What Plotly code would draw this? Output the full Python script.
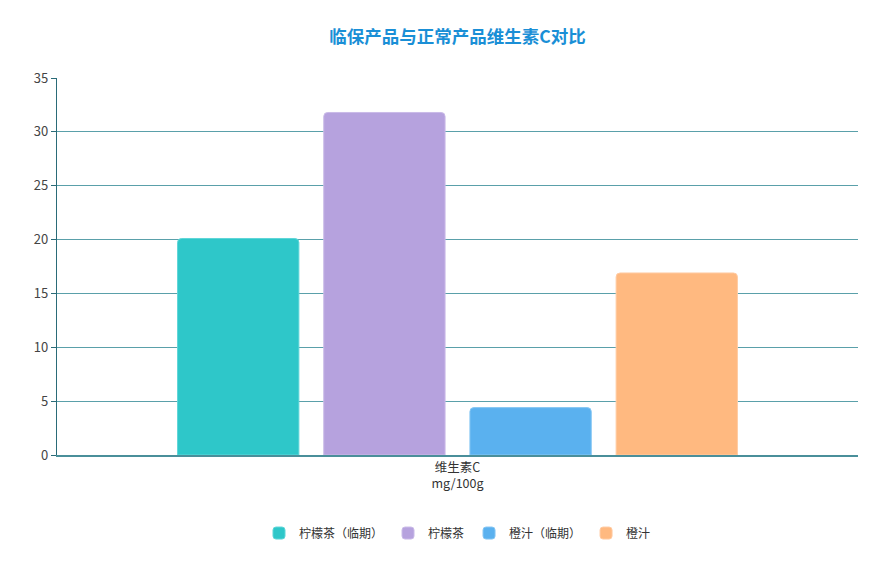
import plotly.graph_objects as go

categories = ["维生素C<br>mg/100g"]
series_names = ["柠檬茶（临期）", "柠檬茶", "橙汁（临期）", "橙汁"]
series_values = [[20.1], [31.8], [4.4], [16.9]]
colors = ["#2ec7c9", "#b6a2de", "#5ab1ef", "#ffb980"]
border_colors = ["#5fd6d8", "#cabbe8", "#85c6f3", "#ffcba3"]
y_ticks = [0, 5, 10, 15, 20, 25, 30, 35]

fig = go.Figure()
for name, vals, c, bc in zip(series_names, series_values, colors, border_colors):
    fig.add_trace(go.Bar(
        x=categories, y=vals, name=name,
        marker=dict(color=c, line=dict(color=bc, width=1), cornerradius=4),
    ))

font_family = "Noto Sans CJK SC, Noto Sans, sans-serif"
fig.update_layout(
    width=879, height=561,
    paper_bgcolor="white", plot_bgcolor="white",
    margin=dict(l=49, r=29, t=70, b=114),
    font=dict(family=font_family, size=13, color="#333333"),
    title=dict(text="<b>临保产品与正常产品维生素C对比</b>", x=0.5, xref="paper", xanchor="center",
               y=1 - 29 / 561, yref="container", yanchor="middle",
               font=dict(size=17.5, color="#1a8fd6")),
    barmode="group", bargap=0.27, bargroupgap=0.17,
    showlegend=True,
    legend=dict(orientation="h", x=0.5, xanchor="center", y=-0.207, yanchor="middle",
                font=dict(size=12, color="#333333"), traceorder="normal"),
    xaxis=dict(showline=True, linecolor="#4a8f9a", linewidth=1.6, showgrid=False,
               ticks="", tickfont=dict(size=12.5, color="#333333")),
    yaxis=dict(range=[0, 35], tickvals=y_ticks, showline=True, linecolor="#2a6b78", linewidth=1.2,
               ticks="outside", ticklen=5, tickcolor="#2a6b78",
               showgrid=True, gridcolor="#5aa0aa", gridwidth=1.2, zeroline=False,
               tickfont=dict(size=13, color="#444444")),
)
fig.write_html("out.html")
